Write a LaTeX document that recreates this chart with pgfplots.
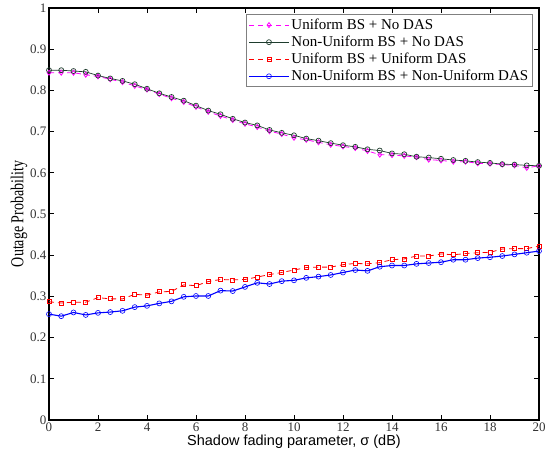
\documentclass[border=0pt]{standalone}
\usepackage{fontspec}
\setmainfont{Liberation Serif}
\newfontfamily\arialfont{Liberation Sans}
\usepackage{pgfplots}
\pgfplotsset{compat=1.18}
\definecolor{dkgreen}{RGB}{30,60,45}
\definecolor{myred}{RGB}{255,0,0}
\definecolor{mymag}{RGB}{255,0,255}
\begin{document}
\begin{tikzpicture}
\begin{axis}[
  name=ax,
  scale only axis,
  width=490pt, height=412pt,
  xmin=0, xmax=20, ymin=0, ymax=1,
  xtick={0,2,...,20},
  ytick={0,0.1,...,1.0},
  yticklabels={0,0.1,0.2,0.3,0.4,0.5,0.6,0.7,0.8,0.9,1},
  tick align=inside,
  major tick length=5pt,
  axis line style={line width=1.6pt},
  every tick/.style={black, line width=1pt},
  /pgf/number format/assume math mode=true,
  tick label style={font=\fontsize{13}{15}\selectfont, text=black!80},
  xticklabel style={yshift=1pt},
  yticklabel style={xshift=1pt},
  xlabel={\arialfont\fontsize{14.5}{16}\selectfont Shadow fading parameter, σ (dB)},
  ylabel={\fontsize{14}{16}\selectfont Outage Probability},
  xlabel style={yshift=3pt},
  ylabel style={yshift=-5pt, yscale=1.3},
  legend style={at={(0.988,0.985)}, anchor=north east, draw=gray, line width=0.8pt,
    font=\fontsize{15}{16.5}\selectfont, cells={anchor=west}, inner sep=2.5pt, row sep=1pt},
  legend cell align=left,
  legend image code/.code={\draw[mark repeat=2,mark phase=2,#1] plot coordinates {(0cm,0cm) (0.7cm,0cm) (1.4cm,0cm)};},
]
\addplot[draw=mymag, dash pattern=on 5pt off 4pt, line width=0.8pt, mark=diamond, mark size=2.5pt, mark options={solid, draw=mymag, fill=white}] coordinates {
(0,0.843)(0.5,0.843)(1,0.843)(1.5,0.838)(2,0.834)(2.5,0.827)(3,0.820)(3.5,0.811)(4,0.802)(4.5,0.791)
(5,0.781)(5.5,0.772)(6,0.760)(6.5,0.748)(7,0.738)(7.5,0.728)(8,0.719)(8.5,0.711)(9,0.701)(9.5,0.694)
(10,0.685)(10.5,0.680)(11,0.674)(11.5,0.668)(12,0.664)(12.5,0.660)(13,0.653)(13.5,0.644)(14,0.643)(14.5,0.641)
(15,0.638)(15.5,0.632)(16,0.630)(16.5,0.627)(17,0.627)(17.5,0.623)(18,0.622)(18.5,0.620)(19,0.618)(19.5,0.612)(20,0.617)};
\addlegendentry{Uniform BS + No DAS}
\addplot[draw=dkgreen, solid, line width=0.7pt, mark=o, mark size=2.5pt, mark options={draw=dkgreen}] coordinates {
(0,0.849)(0.5,0.849)(1,0.847)(1.5,0.845)(2,0.836)(2.5,0.829)(3,0.823)(3.5,0.815)(4,0.804)(4.5,0.793)
(5,0.784)(5.5,0.775)(6,0.763)(6.5,0.751)(7,0.742)(7.5,0.731)(8,0.722)(8.5,0.715)(9,0.704)(9.5,0.697)
(10,0.691)(10.5,0.683)(11,0.678)(11.5,0.672)(12,0.667)(12.5,0.663)(13,0.657)(13.5,0.654)(14,0.647)(14.5,0.645)
(15,0.639)(15.5,0.637)(16,0.634)(16.5,0.631)(17,0.629)(17.5,0.626)(18,0.624)(18.5,0.621)(19,0.620)(19.5,0.618)(20,0.617)};
\addlegendentry{Non-Uniform BS + No DAS}
\addplot[draw=myred, dash pattern=on 5pt off 4pt, line width=0.8pt, mark=square, mark size=2pt, mark options={solid, draw=myred}] coordinates {
(0,0.287)(0.5,0.284)(1,0.286)(1.5,0.286)(2,0.297)(2.5,0.294)(3,0.294)(3.5,0.305)(4,0.303)(4.5,0.311)
(5,0.312)(5.5,0.328)(6,0.326)(6.5,0.336)(7,0.341)(7.5,0.340)(8,0.341)(8.5,0.347)(9,0.353)(9.5,0.358)
(10,0.364)(10.5,0.370)(11,0.371)(11.5,0.371)(12,0.377)(12.5,0.380)(13,0.379)(13.5,0.382)(14,0.389)(14.5,0.391)
(15,0.398)(15.5,0.398)(16,0.403)(16.5,0.401)(17,0.404)(17.5,0.406)(18,0.407)(18.5,0.415)(19,0.416)(19.5,0.416)(20,0.422)};
\addlegendentry{Uniform BS + Uniform DAS}
\addplot[draw=blue, solid, line width=1.1pt, mark=o, mark size=2.5pt, mark options={line width=0.6pt, draw=blue}] coordinates {
(0,0.257)(0.5,0.252)(1,0.261)(1.5,0.255)(2,0.260)(2.5,0.262)(3,0.265)(3.5,0.274)(4,0.277)(4.5,0.283)
(5,0.288)(5.5,0.299)(6,0.301)(6.5,0.301)(7,0.314)(7.5,0.313)(8,0.323)(8.5,0.333)(9,0.330)(9.5,0.337)
(10,0.339)(10.5,0.345)(11,0.348)(11.5,0.352)(12,0.358)(12.5,0.364)(13,0.362)(13.5,0.372)(14,0.375)(14.5,0.375)
(15,0.379)(15.5,0.381)(16,0.383)(16.5,0.389)(17,0.389)(17.5,0.393)(18,0.395)(18.5,0.398)(19,0.402)(19.5,0.406)(20,0.410)};
\addlegendentry{Non-Uniform BS + Non-Uniform DAS}
\end{axis}
\pgfresetboundingbox
\path[use as bounding box] ([shift={(-49pt,-48pt)}]ax.south west) rectangle ([shift={(7pt,8pt)}]ax.north east);
\end{tikzpicture}
\end{document}
